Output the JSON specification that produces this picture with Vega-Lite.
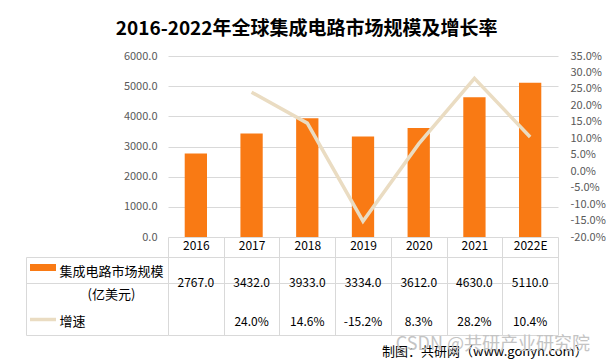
{
  "$schema": "https://vega.github.io/schema/vega-lite/v6.json",
  "background": "white",
  "padding": {"left": 26, "top": 20, "right": 4, "bottom": 2},
  "title": {"text": "2016-2022年全球集成电路市场规模及增长率", "fontSize": 19, "fontWeight": "bold", "color": "#000000", "anchor": "middle", "dx": -9, "offset": 11},
  "data": {"values": [
    {"year": "2016", "scale": 2767.0, "growth": null},
    {"year": "2017", "scale": 3432.0, "growth": 0.240},
    {"year": "2018", "scale": 3933.0, "growth": 0.146},
    {"year": "2019", "scale": 3334.0, "growth": -0.152},
    {"year": "2020", "scale": 3612.0, "growth": 0.083},
    {"year": "2021", "scale": 4630.0, "growth": 0.282},
    {"year": "2022E", "scale": 5110.0, "growth": 0.104}
  ]},
  "spacing": 0,
  "bounds": "flush",
  "hconcat": [
    {
      "width": 142,
      "height": 279,
      "title": {"text": "制图：共研网（www.gonyn.com）", "orient": "bottom", "anchor": "start", "frame": "group", "dx": 356, "offset": 11, "fontSize": 13, "fontWeight": "normal", "color": "#000000"},
      "encoding": {
        "x": {"datum": 0, "type": "quantitative", "scale": {"domain": [0, 1]}, "axis": null}
      },
      "layer": [
        {
          "mark": {"type": "text", "text": ""},
          "encoding": {
            "y": {"datum": "规模", "type": "nominal",
              "scale": {"type": "band", "domain": ["规模", "规模续", "增速"], "range": [201, 279], "paddingInner": 0, "paddingOuter": 0},
              "axis": {"orient": "left", "title": null, "domain": true, "domainColor": "#d9d9d9", "ticks": false, "tickSize": 0,
                "grid": true, "tickBand": "extent",
                "gridColor": {"condition": {"test": "datum.value === '规模续'", "value": "transparent"}, "value": "#d9d9d9"},
                "labelExpr": "datum.value === '规模' ? ['集成电路市场规模', '(亿美元)'] : (datum.value === '增速' ? '增速' : '')",
                "labelFontSize": 13, "labelColor": "#000000", "labelLineHeight": 23,
                "labelAlign": {"condition": {"test": "datum.value === '规模'", "value": "center"}, "value": "left"},
                "labelPadding": {"condition": {"test": "datum.value === '规模'", "value": -85}, "value": -33},
                "labelOffset": {"condition": {"test": "datum.value === '规模'", "value": 1.5}, "value": -1},
                "labelBaseline": "middle", "labelBound": false, "labelOverlap": false, "labelLimit": 300}
            }
          }
        },
        {
          "mark": {"type": "text", "text": ""},
          "encoding": {
            "y": {"datum": "增速", "type": "nominal",
              "scale": {"type": "band", "domain": ["规模", "规模续", "增速"], "range": [201, 279], "paddingInner": 0, "paddingOuter": 0},
              "axis": {"orient": "left", "title": null, "offset": -3.5, "domain": false, "labels": false, "grid": false,
                "ticks": true, "tickSize": -26, "tickOffset": -3.5, "tickCap": "butt",
                "tickWidth": {"condition": {"test": "datum.value === '规模'", "value": 7}, "value": 3.5},
                "tickColor": {"condition": [{"test": "datum.value === '规模'", "value": "#f97a14"}, {"test": "datum.value === '增速'", "value": "#eadcc2"}], "value": "transparent"}}
            }
          }
        }
      ],
      "resolve": {"axis": {"y": "independent"}}
    },
    {
      "width": 390,
      "height": 279,
      "title": {"text": "CSDN @共研产业研究院", "orient": "bottom", "anchor": "end", "frame": "group", "dx": 32, "offset": 0, "fontSize": 18, "fontWeight": "normal", "color": "#c4c4c4"},
      "encoding": {
        "x": {"field": "year", "type": "nominal", "sort": null,
          "scale": {"type": "band", "paddingInner": 0, "paddingOuter": 0},
          "axis": {"orient": "bottom", "offset": -98, "title": null, "domain": false, "ticks": true, "tickBand": "extent",
            "tickSize": 98, "tickColor": "#d9d9d9", "labelPadding": -95, "labelAngle": 0, "labelFontSize": 12,
            "labelColor": "#000000", "grid": false}}
      },
      "layer": [
        {
          "mark": {"type": "bar", "color": "#f97a14", "width": {"band": 0.4}},
          "encoding": {
            "y": {"field": "scale", "type": "quantitative",
              "scale": {"domain": [0, 6000], "range": [181, 0], "nice": false, "zero": true},
              "axis": {"orient": "left", "title": null, "values": [0, 1000, 2000, 3000, 4000, 5000, 6000], "format": ".1f",
                "grid": true, "gridColor": "#d9d9d9", "domain": false, "ticks": false, "labelPadding": 11,
                "labelFontSize": 11, "labelColor": "#595959"}}
          }
        },
        {
          "transform": [{"filter": "datum.growth != null"}],
          "mark": {"type": "line", "color": "#eadcc2", "strokeWidth": 3.5},
          "encoding": {
            "y": {"field": "growth", "type": "quantitative",
              "scale": {"domain": [-0.2, 0.35], "range": [181, 0], "nice": false, "zero": false},
              "axis": {"orient": "right", "title": null, "values": [-0.2, -0.15, -0.1, -0.05, 0, 0.05, 0.1, 0.15, 0.2, 0.25, 0.3, 0.35],
                "format": ".1%", "grid": false, "domain": false, "ticks": false, "labelPadding": 12,
                "labelFontSize": 11, "labelColor": "#595959"}}
          }
        },
        {
          "mark": {"type": "text", "fontSize": 12, "color": "#000000"},
          "encoding": {
            "y": {"datum": "规模", "type": "nominal", "bandPosition": 1,
              "scale": {"type": "band", "domain": ["规模", "规模续", "增速"], "range": [201, 279], "paddingInner": 0, "paddingOuter": 0},
              "axis": {"orient": "right", "title": null, "labels": false, "ticks": false, "domain": false, "grid": true, "tickBand": "extent",
                "gridColor": {"condition": {"test": "datum.value === '规模续'", "value": "transparent"}, "value": "#d9d9d9"}}},
            "text": {"field": "scale", "type": "quantitative", "format": ".1f"}
          }
        },
        {
          "transform": [{"filter": "datum.growth != null"}],
          "mark": {"type": "text", "fontSize": 12, "color": "#000000"},
          "encoding": {
            "y": {"datum": "增速", "type": "nominal",
              "scale": {"type": "band", "domain": ["规模", "规模续", "增速"], "range": [201, 279], "paddingInner": 0, "paddingOuter": 0},
              "axis": null},
            "text": {"field": "growth", "type": "quantitative", "format": ".1%"}
          }
        }
      ],
      "resolve": {"scale": {"y": "independent"}, "axis": {"y": "independent"}}
    }
  ],
  "config": {
    "font": "Noto Sans CJK SC",
    "view": {"stroke": null},
    "locale": {"number": {"decimal": ".", "thousands": ",", "grouping": [3], "currency": ["$", ""], "minus": "-"}}
  }
}
